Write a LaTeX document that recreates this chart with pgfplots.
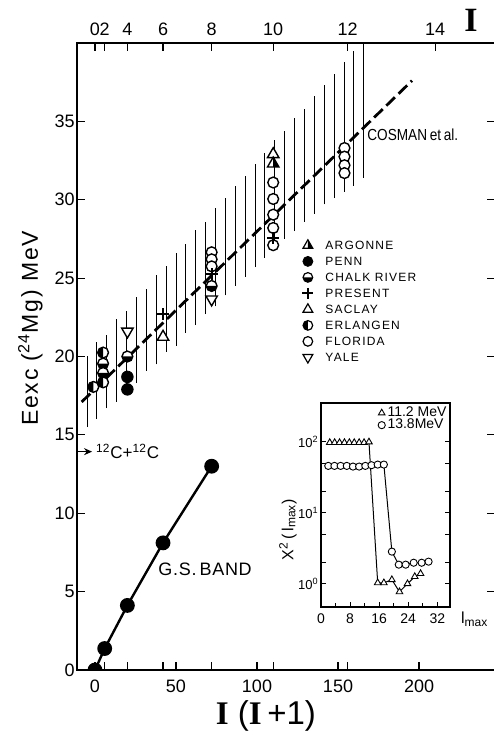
\documentclass[border=0pt]{standalone}
\usepackage{fontspec}
\setmainfont{Liberation Sans}
\newfontfamily\serifI{Liberation Serif}
\usepackage{pgfplots}
\pgfplotsset{compat=1.18}
\usetikzlibrary{calc,arrows.meta}
\pgfkeys{/pgf/number format/assume math mode=true}
\newcommand{\tickf}{\fontsize{9}{9}\selectfont}
\newcommand{\legf}{\fontsize{6}{6}\selectfont\addfontfeature{LetterSpace=10}}

% circle: upper half white, lower half black
\pgfdeclareplotmark{chalk}{%
  \pgfpathcircle{\pgfpointorigin}{\pgfplotmarksize}%
  \pgfsetfillcolor{white}\pgfusepathqfillstroke
  \pgfpathmoveto{\pgfqpoint{\pgfplotmarksize}{0pt}}%
  \pgfpatharc{0}{-180}{\pgfplotmarksize}%
  \pgfpathclose
  \pgfsetfillcolor{black}\pgfusepathqfill
}
% circle: left half black
\pgfdeclareplotmark{erl}{%
  \pgfpathcircle{\pgfpointorigin}{\pgfplotmarksize}%
  \pgfsetfillcolor{white}\pgfusepathqfillstroke
  \pgfpathmoveto{\pgfqpoint{0pt}{\pgfplotmarksize}}%
  \pgfpatharc{90}{270}{\pgfplotmarksize}%
  \pgfpathclose
  \pgfsetfillcolor{black}\pgfusepathqfill
}
% triangle: right half black
\pgfdeclareplotmark{argo}{%
  \pgfpathmoveto{\pgfqpoint{0pt}{\pgfplotmarksize}}%
  \pgfpathlineto{\pgfqpointpolar{-150}{\pgfplotmarksize}}%
  \pgfpathlineto{\pgfqpointpolar{-30}{\pgfplotmarksize}}%
  \pgfpathclose
  \pgfsetfillcolor{white}\pgfusepathqfillstroke
  \pgfpathmoveto{\pgfqpoint{0pt}{\pgfplotmarksize}}%
  \pgfpathlineto{\pgfqpointpolar{-30}{\pgfplotmarksize}}%
  \pgfpathlineto{\pgfqpoint{0pt}{-0.5\pgfplotmarksize}}%
  \pgfpathclose
  \pgfsetfillcolor{black}\pgfusepathqfill
}

\pgfplotstableread{
x lo len
-4.9 15.5 4.5
1.2 16.0 4.9
7.3 16.7 4.7
13.4 17.1 5.3
19.5 17.9 5.0
25.6 18.3 5.5
31.7 19.1 5.2
37.8 19.5 5.7
43.9 20.3 5.5
50.0 20.7 5.9
56.1 21.5 5.7
62.2 22.0 6.1
68.3 22.7 5.9
74.4 23.2 6.3
80.5 23.9 6.2
86.6 24.5 6.4
92.7 25.1 6.4
98.8 25.7 6.6
104.9 26.3 6.7
111.0 26.8 7.0
117.1 27.5 6.9
123.2 28.0 7.2
129.3 28.6 7.2
135.4 29.1 7.5
141.5 29.7 7.6
147.6 30.1 7.9
153.7 30.5 8.3
159.8 30.9 8.6
165.9 31.4 8.6
}\hatch

\begin{document}
\begin{tikzpicture}
\begin{axis}[name=main,
  scale only axis, width=209pt, height=313.5pt,
  xmin=-11.1, xmax=246.9, ymin=0, ymax=40,
  clip mode=individual, clip marker paths=true,
  axis line style={line width=0.7pt},
  tick style={line width=0.6pt, black},
  major tick length=4pt,
  tick align=inside,
  xtick={0,50,100,150,200},
  extra x ticks={6,20,42,72,110,156},
  extra x tick labels={,,,,,},
  xtick pos=left,
  ytick={0,5,10,15,20,25,30,35},
  ytick pos=both, yticklabel pos=left,
  tick label style={font=\tickf},
  xticklabel style={yshift=-1.5pt},
  yticklabel style={inner sep=1pt},
  xlabel={{\serifI\bfseries I}\ ({\serifI\bfseries I}\,+1)},
  xlabel style={at={(axis description cs:0.452,0)}, anchor=base, yshift=-27pt, font=\fontsize{16.5}{16.5}\selectfont},
  ylabel={\addfontfeature{LetterSpace=8}Eexc\ (\textsuperscript{24}Mg)\ MeV},
  ylabel style={at={(axis description cs:-0.0933,0.545)}, anchor=base, font=\fontsize{11.5}{11.5}\selectfont},
  legend style={at={(0.538,0.6906)}, anchor=north west, draw=none, fill=none, inner sep=0pt, row sep=0pt, font=\legf,
     nodes={inner sep=0pt, text height=6.15pt, text depth=1.85pt},
     /tikz/every odd column/.append style={column sep=6pt}},
  legend cell align=left,
  legend image code/.code={\draw[#1] plot coordinates {(0pt,0pt)};},
]
% hatched band
\addplot[forget plot, draw=none, mark=none,
  error bars/.cd, y dir=plus, y explicit, error mark=none,
  error bar style={draw=black, solid, line width=0.45pt}]
  table[x=x, y=lo, y error=len] {\hatch};
% Cosman line
\addplot[forget plot, line width=1.4pt, dash pattern=on 6pt off 2.5pt] coordinates {(-8.2,17.1) (195.7,37.6)};
% ground state band
\addplot[forget plot, line width=1.2pt, mark=*, mark size=3.1pt] coordinates {(0,0) (6,1.37) (20,4.12) (42,8.11) (72,13.0)};
% arrow 12C+12C
\addplot[forget plot, line width=0.8pt, -{Stealth[length=4pt,width=3.5pt]}] coordinates {(-11.1,13.93) (-1.8,13.93)};

% Florida
\addplot[forget plot, only marks, mark=*, mark size=2.7pt, mark options={fill=white, draw=black, line width=0.7pt}] coordinates {
(72,26.65) (72,26.2) (72,25.75)
(110,31.1) (110,30.05) (110,29.05) (110,28.2) (110,27.1)
(154,33.3) (154,32.75) (154,32.2) (154,31.7)};
% Chalk River
\addplot[forget plot, only marks, mark=chalk, mark size=2.7pt, mark options={line width=0.7pt}] coordinates {
(5,19.55) (5,18.95) (20,20.0) (72,24.5)};
% Erlangen
\addplot[forget plot, only marks, mark=erl, mark size=2.7pt, mark options={line width=0.7pt}] coordinates {
(-1,18.06) (5,20.25) (5,18.35)};
% Penn
\addplot[forget plot, only marks, mark=*, mark size=2.9pt, mark options={fill=black}] coordinates {
(20,18.7) (20,17.9)};
% Saclay
\addplot[forget plot, only marks, mark=triangle*, mark size=3.3pt, mark options={fill=white, draw=black, line width=0.7pt}] coordinates {
(42,21.25) (110,32.9)};
% Yale
\addplot[forget plot, only marks, mark=triangle*, mark size=3.3pt, mark options={fill=white, draw=black, line width=0.7pt, rotate=180}] coordinates {
(20,21.6) (72,23.65)};
% Argonne
\addplot[forget plot, only marks, mark=argo, mark size=3.3pt, mark options={line width=0.7pt}] coordinates {
(110,32.3)};
% Present
\addplot[forget plot, only marks, mark=+, mark size=3pt, mark options={line width=1pt}] coordinates {
(42,22.7) (72,25.25) (110,27.55)};

\addlegendimage{only marks, mark=argo, mark size=2.8pt, mark options={line width=0.6pt}}
\addlegendentry{ARGONNE}
\addlegendimage{only marks, mark=*, mark size=2.5pt, mark options={fill=black}}
\addlegendentry{PENN}
\addlegendimage{only marks, mark=chalk, mark size=2.4pt, mark options={line width=0.6pt}}
\addlegendentry{CHALK RIVER}
\addlegendimage{only marks, mark=+, mark size=2.8pt, mark options={line width=0.9pt}}
\addlegendentry{PRESENT}
\addlegendimage{only marks, mark=triangle*, mark size=2.8pt, mark options={fill=white, draw=black, line width=0.6pt}}
\addlegendentry{SACLAY}
\addlegendimage{only marks, mark=erl, mark size=2.4pt, mark options={line width=0.6pt}}
\addlegendentry{ERLANGEN}
\addlegendimage{only marks, mark=*, mark size=2.4pt, mark options={fill=white, draw=black, line width=0.6pt}}
\addlegendentry{FLORIDA}
\addlegendimage{only marks, mark=triangle*, mark size=2.8pt, mark options={fill=white, draw=black, line width=0.6pt, rotate=180}}
\addlegendentry{YALE}

\node[anchor=base west, inner sep=0pt, font=\fontsize{8}{8}\selectfont\addfontfeature{FakeStretch=0.85}] at (axis cs:167.9,33.8) {COSMAN\,et\,al.};
\node[anchor=base west, inner sep=0pt, font=\fontsize{9}{9}\selectfont\addfontfeature{LetterSpace=4}] at (axis cs:38.9,6.06) {G.S.\,BAND};
\node[anchor=base west, inner sep=0pt, font=\fontsize{8.5}{8.5}\selectfont] at (axis cs:0.5,13.5) {\textsuperscript{12}C+\textsuperscript{12}C};
\end{axis}

% top axis (spin I)
\begin{axis}[scale only axis, width=209pt, height=313.5pt,
  xmin=-11.1, xmax=246.9, ymin=0, ymax=40,
  axis x line*=top, hide y axis,
  axis line style={line width=0.7pt},
  tick style={line width=0.6pt, black},
  major tick length=4pt, tick align=inside,
  xtick={0,6,20,42,72,110,156,210},
  xticklabels={0,2,4,6,8,10,12,14},
  tick label style={font=\tickf},
]
\addplot[draw=none, forget plot] coordinates {(0,0)};
\end{axis}
\node[anchor=base, font=\fontsize{17}{17}\selectfont\serifI\bfseries] at ($(main.north west)+(197pt,5.5pt)$) {I};

% inset
\begin{axis}[name=inset,
  at={($(main.south west)+(122pt,31.5pt)$)}, anchor=south west,
  scale only axis, width=64.5pt, height=102pt,
  xmin=0, xmax=35.5, ymode=log, ymin=0.47, ymax=355,
  axis background/.style={fill=white},
  axis line style={line width=0.6pt},
  tick style={line width=0.5pt, black},
  tick align=inside, major tick length=2.5pt, minor tick length=1.8pt,
  xtick={0,8,16,24,32}, minor xtick={4,12,20,28}, xtick pos=left,
  ytick={1,2,5,10,20,50,100},
  yticklabels={10\textsuperscript{0},,,10\textsuperscript{1},,,10\textsuperscript{2}},
  yminorticks=false,
  xticklabel style={font=\fontsize{7}{7}\selectfont},
  yticklabel style={inner sep=1pt, font=\fontsize{6.5}{6.5}\selectfont},
  ylabel={X\textsuperscript{2}\,(\,l\textsubscript{max})},
  ylabel style={at={(axis description cs:-0.215,0.38)}, anchor=base, font=\fontsize{8}{8}\selectfont},
  legend style={at={(1,1)}, anchor=north east, draw=none, fill=none, inner sep=1pt, row sep=-1.5pt, font=\fontsize{7}{7}\selectfont, nodes={inner sep=0.6pt},
     /tikz/every odd column/.append style={column sep=0.5pt}},
  legend cell align=left,
  legend image code/.code={\draw[#1] plot coordinates {(0pt,0pt)};},
]
\addplot[line width=0.5pt, mark=triangle*, mark size=1.9pt, mark options={fill=white, draw=black, line width=0.45pt}] coordinates {
(2.4,98) (3.75,98) (5.1,98) (6.45,98) (7.8,98) (9.15,98) (10.5,98) (11.85,98) (13.2,100)
(15.6,1.03) (17.3,1.03) (19.5,1.14) (21.6,0.77) (23.8,1.0) (25.8,1.26) (27.4,1.39)};
\addlegendentry{11.2 MeV}
\addplot[line width=0.5pt, mark=*, mark size=1.8pt, mark options={fill=white, draw=black, line width=0.45pt}] coordinates {
(2.0,46) (3.7,46) (5.4,46) (7.1,46) (8.8,45) (10.5,45) (12.2,46) (13.9,47) (15.6,48) (17.3,48)
(19.5,2.84) (21.4,1.86) (23.3,1.86) (25.5,1.98) (27.7,1.98) (29.6,2.05)};
\addlegendentry{13.8MeV}
\end{axis}
\node[anchor=base west, font=\fontsize{8}{8}\selectfont] at ($(inset.south east)+(2pt,-8.5pt)$) {l\textsubscript{max}};

\pgfresetboundingbox
\path[use as bounding box] ($(main.south west)+(-38.5pt,-30.5pt)$) rectangle ($(main.south west)+(208pt,335pt)$);
\end{tikzpicture}
\end{document}
